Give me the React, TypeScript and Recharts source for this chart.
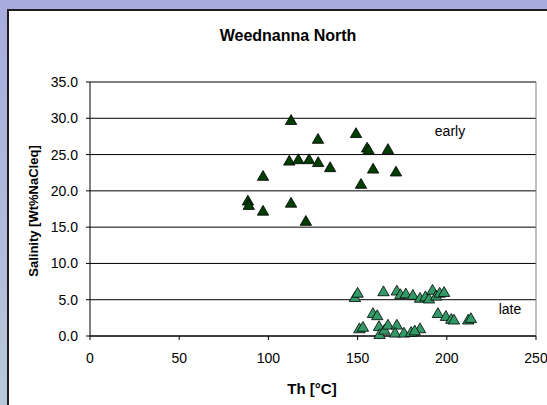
import React from 'react';
import { ScatterChart, Scatter, XAxis, YAxis, ZAxis, CartesianGrid, ReferenceLine } from 'recharts';

const earlyTh = [112.7, 127.8, 149.1, 155.3, 156.2, 111.7, 116.8, 122.8, 127.9, 134.6, 158.7, 151.9, 97.0, 88.5, 89.0, 97.0, 112.7, 121.0, 167.0, 171.5];
const earlySal = [29.6, 27.0, 27.8, 25.8, 25.5, 24.0, 24.2, 24.2, 23.8, 23.1, 22.9, 20.8, 21.9, 18.5, 17.9, 17.1, 18.2, 15.7, 25.6, 22.5];

const lateTh = [148.5, 150.0, 164.5, 172.0, 174.0, 177.0, 181.0, 185.0, 188.0, 190.0, 192.0, 194.0, 196.0, 198.5, 158.6, 161.0, 151.0, 153.0, 162.0, 162.3, 165.0, 167.0, 172.0, 171.0, 176.0, 180.0, 185.0, 182.0, 195.0, 199.5, 202.5, 204.0, 212.0, 213.5];
const lateSal = [5.2, 5.8, 6.0, 6.1, 5.6, 5.7, 5.5, 5.1, 5.3, 5.0, 6.2, 5.4, 5.8, 5.9, 3.0, 2.7, 0.9, 1.1, 1.2, 0.1, 0.7, 1.4, 1.4, 0.3, 0.3, 0.4, 0.9, 0.6, 3.0, 2.6, 2.2, 2.1, 2.1, 2.3];

const xTicks = [0, 50, 100, 150, 200, 250];
const yTicks = [0, 5, 10, 15, 20, 25, 30, 35];

const title = 'Weednanna North';
const xLabel = 'Th [°C]';
const yLabel = 'Salinity [Wt%NaCleq]';
const earlyLabel = 'early';
const lateLabel = 'late';

const early = earlyTh.map((x, i) => ({ x, y: earlySal[i] }));
const late = lateTh.map((x, i) => ({ x, y: lateSal[i] }));

const FONT = '"Liberation Sans", Arial, sans-serif';

export default function App() {
  return (
    <div style={{ position: 'absolute', left: 0, top: 0, width: 547, height: 405, overflow: 'hidden', background: 'linear-gradient(to bottom, #a7abdf, #b9c8d8)' }}>
      <div style={{ position: 'absolute', left: 7, top: 9, width: 600, height: 450, background: '#fff', borderTop: '2px solid #1e1e1e', borderLeft: '2px solid #1e1e1e' }} />
      <div style={{ position: 'absolute', left: 0, top: 0 }}>
        <ScatterChart width={547} height={405} margin={{ top: 82, right: 11, bottom: 0, left: 0 }}>
          <CartesianGrid vertical={false} stroke="#000" strokeDasharray="" />
          <ReferenceLine y={35} stroke="#808080" ifOverflow="extendDomain" />
          <ReferenceLine x={250} stroke="#808080" />
          <XAxis type="number" dataKey="x" domain={[0, 250]} ticks={xTicks} interval={0}
            axisLine={{ stroke: '#000' }} tickLine={{ stroke: '#000' }} tickSize={4} tickMargin={13}
            height={69} tick={{ fill: '#000', fontSize: 14, fontFamily: FONT }} />
          <YAxis type="number" dataKey="y" domain={[0, 35]} ticks={yTicks} interval={0}
            axisLine={{ stroke: '#000' }} tickLine={{ stroke: '#000' }} tickSize={4} tickMargin={8}
            width={90} tickFormatter={(v: number) => v.toFixed(1)}
            tick={{ fill: '#000', fontSize: 14, fontFamily: FONT }} />
          <ZAxis range={[56, 56]} />
          <Scatter data={early} shape="triangle" fill="#003d00" stroke="#000" strokeWidth={0.8} isAnimationActive={false} />
          <Scatter data={late} shape="triangle" fill="#339966" stroke="#000" strokeWidth={0.8} isAnimationActive={false} />
        </ScatterChart>
      </div>
      <svg width={547} height={405} style={{ position: 'absolute', left: 0, top: 0, pointerEvents: 'none' }}>
        <text x={288} y={35} textAnchor="middle" dominantBaseline="central" fontFamily={FONT} fontWeight="bold" fontSize={16} fill="#000">{title}</text>
        <text x={312} y={388} textAnchor="middle" dominantBaseline="central" fontFamily={FONT} fontWeight="bold" fontSize={15} fill="#000">{xLabel}</text>
        <text x={0} y={0} transform="translate(33,211) rotate(-90)" textAnchor="middle" dominantBaseline="central" fontFamily={FONT} fontWeight="bold" fontSize={13} fill="#000">{yLabel}</text>
        <text x={450} y={131} textAnchor="middle" dominantBaseline="central" fontFamily={FONT} fontSize={14} fill="#000">{earlyLabel}</text>
        <text x={510} y={309} textAnchor="middle" dominantBaseline="central" fontFamily={FONT} fontSize={14} fill="#000">{lateLabel}</text>
      </svg>
    </div>
  );
}
